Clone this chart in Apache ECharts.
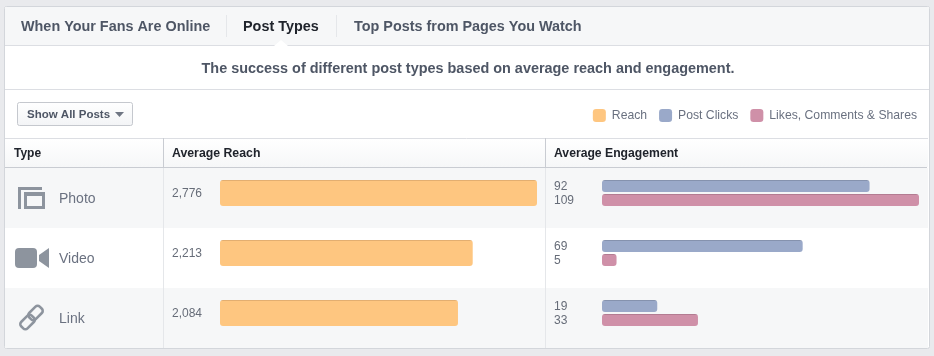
<!DOCTYPE html>
<html>
<head>
<meta charset="utf-8">
<style>
  html, body { margin: 0; padding: 0; background: #e9eaed; }
  #chart { width: 934px; height: 356px; }
</style>
</head>
<body>
<div id="chart"></div>
<script src="https://cdn.jsdelivr.net/npm/echarts@6/dist/echarts.min.js"></script>
<script>
var categories = ['Photo', 'Video', 'Link']
var reach = [2776, 2213, 2084]
var postClicks = [92, 69, 19]
var likes = [109, 5, 33]
var seriesNames = ['Reach', 'Post Clicks', 'Likes, Comments & Shares']
var tabs = ['When Your Fans Are Online', 'Post Types', 'Top Posts from Pages You Watch']
var columns = ['Type', 'Average Reach', 'Average Engagement']
var subtitle = 'The success of different post types based on average reach and engagement.'
var buttonText = 'Show All Posts'

var FONT = '"Liberation Sans", Arial, sans-serif'
var ICON = '#8d949e'
var LINE = '#dcdee3'

function rect (x, y, w, h, fill, stroke, r) {
  return {
    type: 'rect',
    shape: { x: x, y: y, width: w, height: h, r: r || 0 },
    style: { fill: fill, stroke: stroke || null, lineWidth: stroke ? 1 : 0 },
    silent: true
  }
}
function text (x, y, str, size, weight, color, align) {
  return {
    type: 'text',
    x: x,
    y: y,
    style: { text: str, font: weight + ' ' + size + 'px ' + FONT, fill: color, textAlign: align || 'left', textVerticalAlign: 'middle' },
    silent: true
  }
}
function vgrad (a, b) {
  return new echarts.graphic.LinearGradient(0, 0, 0, 1, [{ offset: 0, color: a }, { offset: 1, color: b }])
}
// bar fill with the darker 1px top edge
function barFill (edge, color, h) {
  var e = 1 / h
  return new echarts.graphic.LinearGradient(0, 0, 0, 1, [
    { offset: 0, color: edge }, { offset: e, color: edge },
    { offset: e, color: color }, { offset: 1, color: color }
  ])
}
function line (x1, y1, x2, y2, color) {
  return {
    type: 'line',
    shape: { x1: x1, y1: y1, x2: x2, y2: y2 },
    style: { stroke: color, lineWidth: 1 },
    silent: true
  }
}
function poly (points, fill) {
  return { type: 'polygon', shape: { points: points }, style: { fill: fill }, silent: true }
}
function chainLink (x, y) {
  return {
    type: 'rect',
    x: x,
    y: y,
    rotation: Math.PI / 4,
    shape: { x: -7.5, y: -4.5, width: 15, height: 9, r: 3 },
    style: { fill: null, stroke: ICON, lineWidth: 2.5 },
    silent: true
  }
}

var chrome = [
  // card
  rect(4.5, 6.5, 925, 342, '#ffffff', '#d3d6db', 2),
  rect(5, 7, 924, 38, '#f6f7f8'),
  line(5, 45.5, 929, 45.5, LINE),
  poly([[274, 46], [281, 40], [288, 46]], '#ffffff'),
  line(226.5, 15, 226.5, 37, '#e5e7ea'),
  line(336.5, 15, 336.5, 37, '#e5e7ea'),
  text(21, 27, tabs[0], 14.4, 'bold', '#4e5665'),
  text(243, 27, tabs[1], 14.4, 'bold', '#20242c'),
  text(354, 27, tabs[2], 14.4, 'bold', '#4e5665'),
  text(468, 69, subtitle, 14.43, 'bold', '#4e5665', 'center'),
  line(5, 89.5, 929, 89.5, LINE),
  // dropdown
  rect(17.5, 102.5, 115, 23, vgrad('#ffffff', '#f3f4f6'), '#c5c8ce', 2),
  text(27, 115, buttonText, 11.5, 'bold', '#4e5665'),
  poly([[115, 112], [124, 112], [119.5, 117]], '#6f7683'),
  // table head
  rect(5, 138, 923, 29, vgrad('#ffffff', '#f6f7f8')),
  line(5, 138.5, 928, 138.5, LINE),
  line(5, 167.5, 927, 167.5, '#c9ccd2'),
  text(14, 154, columns[0], 12, 'bold', '#20242c'),
  text(172, 154, columns[1], 12.3, 'bold', '#20242c'),
  text(554, 154, columns[2], 12.2, 'bold', '#20242c'),
  // rows
  rect(5, 168, 923, 60, '#f6f7f8'),
  rect(5, 288, 923, 60, '#f6f7f8'),
  line(163.5, 138, 163.5, 167, '#c9ccd2'),
  line(545.5, 138, 545.5, 167, '#c9ccd2'),
  line(163.5, 168, 163.5, 348, '#e5e7ea'),
  line(545.5, 168, 545.5, 348, '#e5e7ea'),
  // photo icon
  rect(18, 187, 3, 22, ICON),
  rect(18, 187, 24, 3, ICON),
  rect(24, 192, 21, 17, ICON),
  rect(27, 196, 15, 10, '#f6f7f8'),
  // video icon
  rect(15, 248, 22, 20, ICON, null, 4),
  poly([[39, 255], [49, 248], [49, 268], [39, 261]], ICON),
  // link icon
  chainLink(35.5, 313),
  chainLink(27.5, 322)
]

categories.forEach(function (name, i) {
  chrome.push(text(59, 199 + i * 60, name, 14, 'normal', '#6a7180'))
})

function valueLabel (dx) {
  return {
    show: true,
    position: 'insideLeft',
    offset: [dx, 1],
    color: '#666c78',
    fontFamily: FONT,
    fontSize: 12,
    formatter: function (p) { return p.value.toLocaleString('en-US') }
  }
}

var option = {
  animation: false,
  backgroundColor: '#e9eaed',
  textStyle: { fontFamily: FONT },
  graphic: { elements: chrome },
  legend: {
    right: 17,
    top: 109,
    padding: 0,
    itemWidth: 13,
    itemHeight: 13,
    itemGap: 12,
    icon: 'roundRect',
    textStyle: { color: '#6a7180', fontSize: 12.2, fontFamily: FONT, padding: [0, 0, 0, 1] },
    selectedMode: false,
    data: [
      { name: seriesNames[0], itemStyle: { color: '#fec680' } },
      { name: seriesNames[1], itemStyle: { color: '#9aa9c9' } },
      { name: seriesNames[2], itemStyle: { color: '#cf90a8' } }
    ]
  },
  grid: [
    { left: 220, width: 317, top: 163, height: 180 },
    { left: 602, width: 317, top: 163, height: 180 }
  ],
  xAxis: [
    { gridIndex: 0, type: 'value', min: 0, max: 2776, show: false },
    { gridIndex: 1, type: 'value', min: 0, max: 109, show: false }
  ],
  yAxis: [
    { gridIndex: 0, type: 'category', inverse: true, data: categories, show: false },
    { gridIndex: 1, type: 'category', inverse: true, data: categories, show: false }
  ],
  series: [
    {
      name: seriesNames[0],
      type: 'bar',
      xAxisIndex: 0,
      yAxisIndex: 0,
      data: reach,
      barWidth: 26,
      itemStyle: { color: barFill('#e3ae70', '#fec680', 26), borderRadius: 3 },
      label: valueLabel(-53)
    },
    {
      name: seriesNames[1],
      type: 'bar',
      xAxisIndex: 1,
      yAxisIndex: 1,
      data: postClicks,
      barWidth: 12,
      barGap: '16.67%',
      itemStyle: { color: barFill('#8592ae', '#9aa9c9', 12), borderRadius: 3 },
      label: valueLabel(-53)
    },
    {
      name: seriesNames[2],
      type: 'bar',
      xAxisIndex: 1,
      yAxisIndex: 1,
      data: likes,
      barWidth: 12,
      barGap: '16.67%',
      itemStyle: { color: barFill('#b37c92', '#cf90a8', 12), borderRadius: 3 },
      label: valueLabel(-53)
    }
  ]
}

var chart = echarts.init(document.getElementById('chart'))
chart.setOption(option)
</script>
</body>
</html>
